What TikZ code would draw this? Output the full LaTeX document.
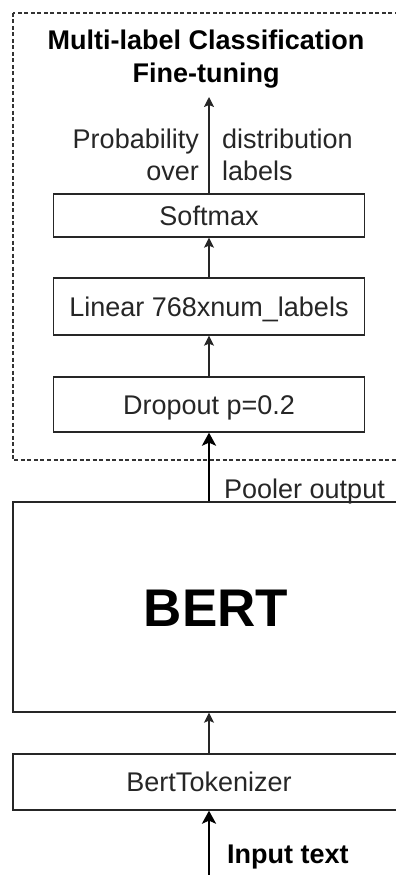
\documentclass[tikz,border=0pt]{standalone}
\usepackage{fontspec}
\setmainfont{Liberation Sans}
\usetikzlibrary{arrows.meta}
\definecolor{ink}{HTML}{262626}
\begin{document}
\begin{tikzpicture}[x=1pt,y=-1pt,
  txt/.style={inner sep=0pt, text=ink, font=\fontsize{27}{32}\selectfont},
  boldtxt/.style={inner sep=0pt, text=black, font=\fontsize{27}{32}\selectfont\bfseries},
  layer/.style={draw=ink, line width=1.3pt, fill=white, inner sep=0pt,
    text=ink, font=\fontsize{27}{32}\selectfont,
    text height=19.4pt, text depth=0pt},
  thin arrow/.style={draw=ink, line width=1.3pt, -{Stealth[length=10pt,width=10pt,inset=2pt]}},
  thick arrow/.style={draw=black, line width=2.6pt, -{Stealth[length=13pt,width=14pt,inset=3pt]}}]
\useasboundingbox (0,0) rectangle (396,875);

% fine-tuning head (dashed frame)
\draw[draw=black!80, line width=1.2pt, dash pattern=on 4pt off 2.5pt] (13,13) rectangle (412,460);
\node[boldtxt, anchor=base] (title1) at (206,49) {Multi-label Classification};
\node[boldtxt, anchor=base] (title2) at (206,82) {Fine-tuning};

\node[layer, minimum width=311pt, minimum height=43pt] (softmax) at (209,215.5) {Softmax};
\node[layer, minimum width=311pt, minimum height=57pt] (linear) at (209,306.5) {Linear 768xnum\_labels};
\node[layer, minimum width=311pt, minimum height=55pt] (dropout) at (209,404.5) {Dropout p=0.2};

\coordinate (out) at (209,97);
\draw[thin arrow] (softmax.north) -- (out);
\node[txt, anchor=base east] (prob) at (199,148) {Probability};
\node[txt, anchor=base east] (over) at (199,180) {over};
\node[txt, anchor=base west] (dist) at (222,148) {distribution};
\node[txt, anchor=base west] (lab) at (222,180) {labels};

\draw[thin arrow] (linear.north) -- (softmax.south);
\draw[thin arrow] (dropout.north) -- (linear.south);

% encoder and tokenizer
\node[layer, minimum width=406pt, minimum height=210pt,
  font=\fontsize{53}{60}\selectfont\bfseries, text=black, text height=38pt] (bert) at (216,607) {BERT};
\node[layer, minimum width=392pt, minimum height=56pt] (tok) at (209,782) {BertTokenizer};

\draw[thick arrow] (dropout.south |- bert.north) -- (dropout.south);
\node[txt, anchor=base west] (pool) at (224,498) {Pooler output};

\draw[thin arrow] (tok.north) -- (tok.north |- bert.south);

\coordinate (in) at (209,880);
\draw[thick arrow] (in) -- (tok.south);
\node[boldtxt, anchor=base west] (input) at (227,863) {Input text};
\end{tikzpicture}
\end{document}
